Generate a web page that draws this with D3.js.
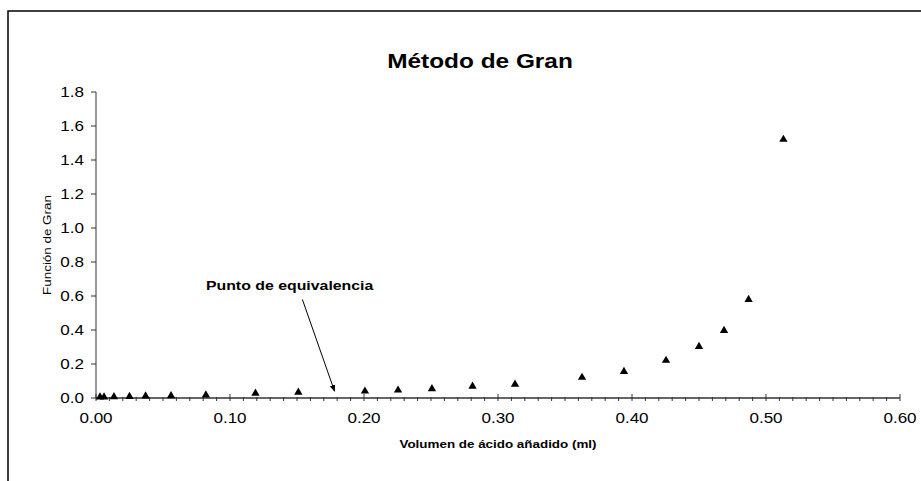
<!DOCTYPE html>
<html>
<head>
<meta charset="UTF-8">
<title>Método de Gran</title>
<script src="https://d3js.org/d3.v7.min.js"></script>
<style>
body { margin: 0; background: #fff; }
svg text { font-family: "Liberation Sans", Arial, sans-serif; fill: #000; }
</style>
</head>
<body>
<svg id="chart" width="921" height="481"></svg>
<script>
// volumen de ácido añadido (ml) y función de Gran
var volumen = [0.003, 0.006, 0.0134, 0.025, 0.037, 0.056, 0.082, 0.119, 0.151, 0.2007, 0.2254,
               0.2507, 0.281, 0.3127, 0.3627, 0.394, 0.4254, 0.45, 0.4687, 0.487, 0.513];
var funcionGran = [0.002, 0.003, 0.004, 0.006, 0.008, 0.010, 0.014, 0.024, 0.031, 0.037, 0.043,
                   0.051, 0.066, 0.078, 0.118, 0.153, 0.218, 0.30, 0.394, 0.576, 1.518];
var xTicks = [0, 0.1, 0.2, 0.3, 0.4, 0.5, 0.6];
var yTicks = [0, 0.2, 0.4, 0.6, 0.8, 1.0, 1.2, 1.4, 1.6, 1.8];
var equivX = 0.178; // punto de equivalencia

var svg = d3.select("#chart");
var pLeft = 96, pRight = 900, pTop = 92, pBottom = 398;
var sx = 1.22; // el texto del original es algo más ancho

var x = d3.scaleLinear().domain([0, 0.6]).range([pLeft, pRight]);
var y = d3.scaleLinear().domain([0, 1.8]).range([pBottom, pTop]);

function pos(px, py, rot) {
  return "translate(" + px + "," + py + ")" + (rot ? " rotate(" + rot + ")" : "") + " scale(" + sx + ",1)";
}

// marco del gráfico
svg.append("path").attr("d", "M8,481 L8,11 L921,11")
  .attr("fill", "none").attr("stroke", "#000").attr("stroke-width", 1.5);

// título
svg.append("text").attr("transform", pos(480, 68)).attr("text-anchor", "middle")
  .style("font-size", "20px").style("font-weight", "bold").text("Método de Gran");

// eje y
var gy = svg.append("g");
gy.append("line").attr("x1", pLeft).attr("x2", pLeft).attr("y1", pTop).attr("y2", pBottom)
  .attr("stroke", "#333");
gy.selectAll(".yt").data(yTicks).enter().append("line")
  .attr("x1", pLeft - 5).attr("x2", pLeft).attr("y1", function(d){ return y(d); }).attr("y2", function(d){ return y(d); })
  .attr("stroke", "#333");
gy.selectAll(".yl").data(yTicks).enter().append("text")
  .attr("transform", function(d){ return pos(pLeft - 12, y(d) + 5); })
  .attr("text-anchor", "end").style("font-size", "14px")
  .text(function(d){ return d3.format(".1f")(d); });
svg.append("text").attr("transform", pos(51, (pTop + pBottom) / 2, -90))
  .attr("text-anchor", "middle").style("font-size", "11px").text("Función de Gran");

// eje x con marcas menores
var gx = svg.append("g");
gx.append("line").attr("x1", pLeft).attr("x2", pRight).attr("y1", pBottom).attr("y2", pBottom)
  .attr("stroke", "#333").attr("stroke-width", 1.3);
var minor = d3.range(0, 61).map(function(i){ return i / 100; });
gx.selectAll(".mt").data(minor).enter().append("line")
  .attr("x1", function(d){ return x(d); }).attr("x2", function(d){ return x(d); })
  .attr("y1", function(d, i){ return i % 10 === 0 ? pBottom - 4 : pBottom - 1; })
  .attr("y2", pBottom + 3)
  .attr("stroke", "#333");
gx.selectAll(".xl").data(xTicks).enter().append("text")
  .attr("transform", function(d){ return pos(x(d), pBottom + 25); })
  .attr("text-anchor", "middle").style("font-size", "14px")
  .text(function(d){ return d3.format(".2f")(d); });
svg.append("text").attr("transform", pos((pLeft + pRight) / 2, 448)).attr("text-anchor", "middle")
  .style("font-size", "11px").style("font-weight", "bold").text("Volumen de ácido añadido (ml)");

// puntos
var tri = d3.symbol().type(d3.symbolTriangle).size(30);
svg.selectAll(".pt").data(volumen).enter().append("path")
  .attr("d", tri)
  .attr("transform", function(d, i){ return "translate(" + x(d) + "," + (y(funcionGran[i]) - 0.5) + ")"; })
  .attr("fill", "#000");

// anotación
svg.append("defs").append("marker").attr("id", "arrow")
  .attr("viewBox", "0 0 10 10").attr("refX", 9).attr("refY", 5)
  .attr("markerWidth", 7).attr("markerHeight", 7).attr("orient", "auto")
  .append("path").attr("d", "M0,1 L10,5 L0,9 Z").attr("fill", "#000");
svg.append("line")
  .attr("x1", x(0.154)).attr("y1", y(0.58))
  .attr("x2", x(equivX)).attr("y2", y(0.04))
  .attr("stroke", "#000").attr("stroke-width", 1)
  .attr("marker-end", "url(#arrow)");
svg.append("text").attr("transform", pos(x(0.1445), y(0.66) + 4)).attr("text-anchor", "middle")
  .style("font-size", "13px").style("font-weight", "bold").text("Punto de equivalencia");
</script>
</body>
</html>
